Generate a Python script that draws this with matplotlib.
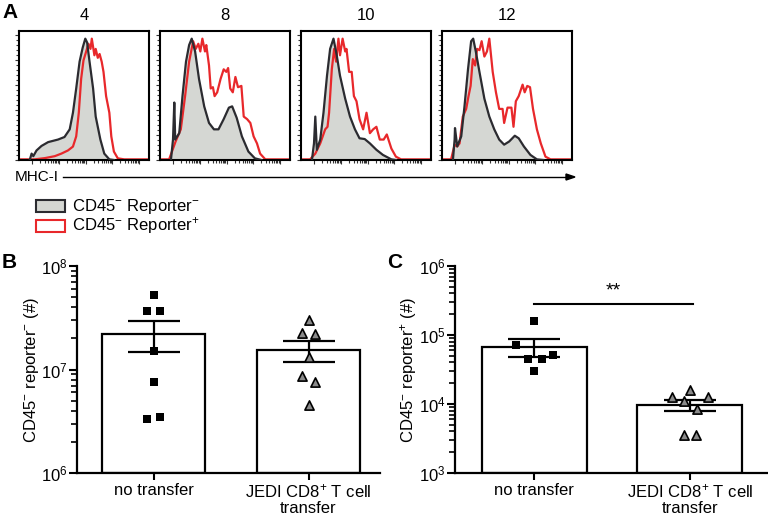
import numpy as np
import matplotlib
matplotlib.use('Agg')
import matplotlib.pyplot as plt
from matplotlib.patches import Rectangle

plt.rcParams['font.family'] = ['Liberation Sans', 'DejaVu Sans']
plt.rcParams['mathtext.fontset'] = 'custom'
plt.rcParams['mathtext.rm'] = 'Liberation Sans'
plt.rcParams['mathtext.it'] = 'Liberation Sans:italic'
plt.rcParams['mathtext.bf'] = 'Liberation Sans:bold'

W, H = 768, 516

# ---- panel A: MHC-I histograms, (x % of axis, y % of mode) ----
days = ['4', '8', '10', '12']

neg_4 = [(8.4, 0.5), (9.7, 5), (11, 3), (13.5, 7.5), (17.3, 11), (22.4, 14), (30, 16),
         (35, 18), (39, 24), (41.5, 37), (44, 56), (46.6, 77), (49, 88), (51, 95),
         (52.4, 92), (54, 79), (57, 56), (59, 34), (62.6, 16), (65.6, 5), (69.5, 0.5), (73, 0)]
pos_4 = [(0, 0.5), (12, 0.5), (20, 1.5), (27.5, 3), (32.6, 5), (37.7, 7.5), (41.5, 10.5),
         (44, 18.5), (46, 37), (47.8, 63.5), (49.6, 78), (51.7, 85), (53.4, 91), (55, 87),
         (56, 95), (58, 82), (59, 87), (60.6, 80), (62, 83), (63.6, 77), (65, 69), (67, 50),
         (69.5, 37), (71, 18.5), (73, 6.6), (76, 1.3), (81, 0.5), (100, 0.5)]

neg_8 = [(8.4, 0), (10, 16), (11, 45), (11.7, 16), (14.8, 21), (17.3, 50), (20, 77),
         (22.4, 90), (24.4, 95), (27, 85), (30, 63.5), (34, 42), (37.7, 29), (41.5, 24),
         (45, 24), (49, 32), (53, 41), (55.5, 42), (59, 33), (63, 18.5), (68, 6.6),
         (73, 1.3), (78, 0)]
pos_8 = [(0, 0.5), (7, 0.5), (9.7, 8), (12, 14.5), (16, 24), (19.3, 50), (22.4, 77),
         (25.5, 93), (27.5, 87), (29.5, 91), (31, 85), (32.6, 95), (34.6, 85), (35.6, 90),
         (37.7, 74), (39, 56), (40.7, 57), (42, 50), (44, 53), (46.6, 63.5), (49, 71),
         (51, 69), (52.4, 72), (54, 56), (56, 53), (58, 65), (60, 57), (62.6, 58),
         (64.4, 34), (67, 32), (69.5, 29), (72, 18.5), (74.6, 13), (77, 5), (81, 0.5),
         (100, 0.5)]

neg_10 = [(8.4, 0), (10, 13), (11, 34), (12.2, 8), (14.8, 16), (17.3, 37), (20, 66),
          (22.4, 87), (25, 95), (27.5, 82), (30, 66), (34, 48), (37.7, 34), (41.5, 24),
          (45, 17), (49, 16.4), (53, 13), (58, 8), (63, 4), (69.5, 0.5), (73, 0)]
pos_10 = [(0, 0.5), (7, 0.5), (11, 5), (14.8, 13), (18.6, 24), (20.4, 26), (21.6, 37),
          (23.7, 71), (25.5, 87), (27, 77), (28.8, 95), (30, 82), (32, 95), (34, 85),
          (35, 87), (37, 69), (39, 69), (40.7, 50), (42.7, 46), (45, 32), (47.8, 24),
          (50.4, 37), (53, 21), (55.5, 24), (58, 26), (60.6, 16), (63.6, 16), (66, 20),
          (69.5, 9), (73, 2.6), (77, 0.5), (100, 0.5)]

neg_12 = [(8.4, 0), (9.7, 16), (10, 25), (11.7, 10.6), (14.8, 18.5), (17.3, 42), (20, 71),
          (22.4, 93), (24, 95), (26, 85), (28.8, 69), (32.6, 48), (36.4, 34), (40.2, 24),
          (44, 16), (47.8, 12), (51.7, 14.5), (56, 19), (59, 17), (63, 10.6), (68, 4),
          (73, 0.5), (78, 0)]
pos_12 = [(0, 0.5), (7, 0.5), (9.7, 12), (11.7, 10.6), (13.5, 13), (16, 34), (18.6, 40),
          (20.4, 50), (22, 58), (23.7, 79), (25.5, 74), (27, 87), (28.8, 86), (30.5, 93),
          (32.6, 81), (34.6, 85), (36.4, 95), (39, 69), (41.5, 53), (44, 40), (46.6, 40),
          (47.8, 29), (50.4, 41), (53.4, 41), (55, 26), (56.8, 46), (59, 50), (62, 59),
          (63.6, 53), (65.6, 58), (67.7, 57), (70, 40), (73, 24), (76, 13), (79.6, 2.6),
          (83.5, 0.5), (100, 0.5)]

neg_curves = [neg_4, neg_8, neg_10, neg_12]
pos_curves = [pos_4, pos_8, pos_10, pos_12]

# ---- panels B and C: cell counts per mouse ----
groups = ['no transfer', 'JEDI CD8$^{+}$ T cell\ntransfer']
b_no = [5.2e7, 3.7e7, 3.7e7, 1.5e7, 7.5e6, 3.35e6, 3.48e6]
b_jedi = [3.0e7, 2.24e7, 2.2e7, 1.31e7, 8.6e6, 7.6e6, 4.5e6]
c_no = [1.6e5, 7.1e4, 4.45e4, 4.45e4, 5.2e4, 2.96e4]
c_jedi = [1.6e4, 1.25e4, 1.12e4, 1.25e4, 8.6e3, 3.6e3, 3.6e3]

# horizontal scatter of the dots (layout only)
b_no_dx = [0, -0.042, 0.042, 0, 0, -0.042, 0.042]
b_jedi_dx = [0, -0.042, 0.042, 0, -0.042, 0.042, 0]
c_no_dx = [0, -0.117, -0.038, 0.048, 0.123, 0]
c_jedi_dx = [0, -0.117, -0.038, 0.119, 0.043, -0.038, 0.04]


def px_box(x0, y0, x1, y1):
    return [x0 / W, 1 - y1 / H, (x1 - x0) / W, (y1 - y0) / H]


fig = plt.figure(figsize=(W / 100, H / 100), dpi=100)

neg_fill = '#d5d7d3'
neg_line = '#2b2b30'
pos_line = '#e8282b'

hist_left = [19, 160, 301, 442]
major_x = [10.3, 30.8, 51.3, 71.8, 92.3]
minor_x = []
for a in major_x[:-1]:
    for k in range(2, 10):
        minor_x.append(a + 20.5 * np.log10(k))
major_y = np.linspace(0, 97.5, 6)
minor_y = [v for a in major_y[:-1] for v in np.linspace(a, a + 19.5, 6)[1:-1]]

for i, day in enumerate(days):
    ax = fig.add_axes(px_box(hist_left[i], 31, hist_left[i] + 130, 160))
    neg = np.array(neg_curves[i])
    pos = np.array(pos_curves[i])
    ax.fill_between(neg[:, 0], neg[:, 1], color=neg_fill, lw=0, zorder=1)
    ax.plot(pos[:, 0], pos[:, 1], color=pos_line, lw=1.6, zorder=2)
    ax.plot(neg[:, 0], neg[:, 1], color=neg_line, lw=1.6, zorder=3)
    ax.set_xlim(0, 100)
    ax.set_ylim(0, 101)
    for s in ax.spines.values():
        s.set_linewidth(1.5)
    ax.set_xticks(major_x)
    ax.set_xticks(minor_x, minor=True)
    ax.set_yticks(major_y)
    ax.set_yticks(minor_y, minor=True)
    ax.tick_params(which='both', direction='out', labelleft=False, labelbottom=False,
                   width=0.8, color='#333333')
    ax.tick_params(which='major', length=3)
    ax.tick_params(which='minor', length=2)
    ax.set_title(day, fontsize=12, pad=8)

fig.text(2 / W, 1 - 12 / H, 'A', fontsize=15, fontweight='bold', va='center')
fig.text(15 / W, 1 - 177 / H, 'MHC-I', fontsize=11, va='center')
fig.add_artist(plt.Line2D([63 / W, 566 / W], [1 - 177 / H, 1 - 177 / H],
                          color='black', lw=1))
fig.add_artist(plt.Polygon([[566 / W, 1 - 174 / H], [575 / W, 1 - 177 / H],
                            [566 / W, 1 - 180 / H]], closed=True, color='black'))

# legend for the histograms
fig.add_artist(Rectangle((36 / W, 1 - 212 / H), 29 / W, 12 / H, facecolor=neg_fill,
                         edgecolor=neg_line, lw=1.5))
fig.add_artist(Rectangle((36 / W, 1 - 232 / H), 29 / W, 12 / H, facecolor='white',
                         edgecolor=pos_line, lw=1.5))
fig.text(72 / W, 1 - 206 / H, 'CD45$^{-}$ Reporter$^{-}$', fontsize=12, va='center')
fig.text(72 / W, 1 - 226 / H, 'CD45$^{-}$ Reporter$^{+}$', fontsize=12, va='center')


def bar_panel(ax, sets, offsets, ylim, ylabel, width):
    markers = [dict(marker='s', s=36, c='black', linewidths=0),
               dict(marker='^', s=44, c='#8a8a8a', edgecolors='black', linewidths=1.2)]
    for i, (vals, dx) in enumerate(zip(sets, offsets)):
        vals = np.array(vals)
        m = vals.mean()
        sem = vals.std(ddof=1) / np.sqrt(len(vals))
        ax.bar(i, m - ylim[0], bottom=ylim[0], width=width, color='white',
               edgecolor='black', lw=1.6, zorder=1)
        ax.errorbar(i, m, yerr=sem, color='black', capsize=19, elinewidth=1.6,
                    capthick=1.6, zorder=2)
        ax.scatter(i + np.array(dx), vals, zorder=3, **markers[i])
    ax.set_yscale('log')
    ax.set_ylim(*ylim)
    ax.set_xticks([0, 1])
    ax.set_xticklabels(groups, fontsize=12, linespacing=1.05)
    for side in ['top', 'right']:
        ax.spines[side].set_visible(False)
    for side in ['left', 'bottom']:
        ax.spines[side].set_linewidth(1.6)
    ax.tick_params(axis='y', which='major', length=6, width=1.5, labelsize=12, pad=1)
    ax.tick_params(axis='y', which='minor', length=4.5, width=1.2)
    ax.tick_params(axis='x', length=5, width=1.5, pad=2)
    ax.set_ylabel(ylabel, fontsize=12, labelpad=0)


axb = fig.add_axes(px_box(77, 266, 380, 473))
bar_panel(axb, [b_no, b_jedi], [b_no_dx, b_jedi_dx], (1e6, 1e8),
          'CD45$^{-}$ reporter$^{-}$ (#)', 0.665)
axb.set_xlim(-0.494, 1.461)
fig.text(2 / W, 1 - 262 / H, 'B', fontsize=15, fontweight='bold', va='center')

axc = fig.add_axes(px_box(455, 266, 767, 473))
bar_panel(axc, [c_no, c_jedi], [c_no_dx, c_jedi_dx], (1e3, 1e6),
          'CD45$^{-}$ reporter$^{+}$ (#)', 0.674)
axc.set_xlim(-0.509, 1.495)
axc.plot([0, 1.02], [2.8e5, 2.8e5], color='black', lw=1.5)
axc.text(0.51, 4.3e5, '**', fontsize=14, ha='center', va='center')
fig.text(387 / W, 1 - 263 / H, 'C', fontsize=15, fontweight='bold', va='center')

fig.savefig('out.png', dpi=100)
